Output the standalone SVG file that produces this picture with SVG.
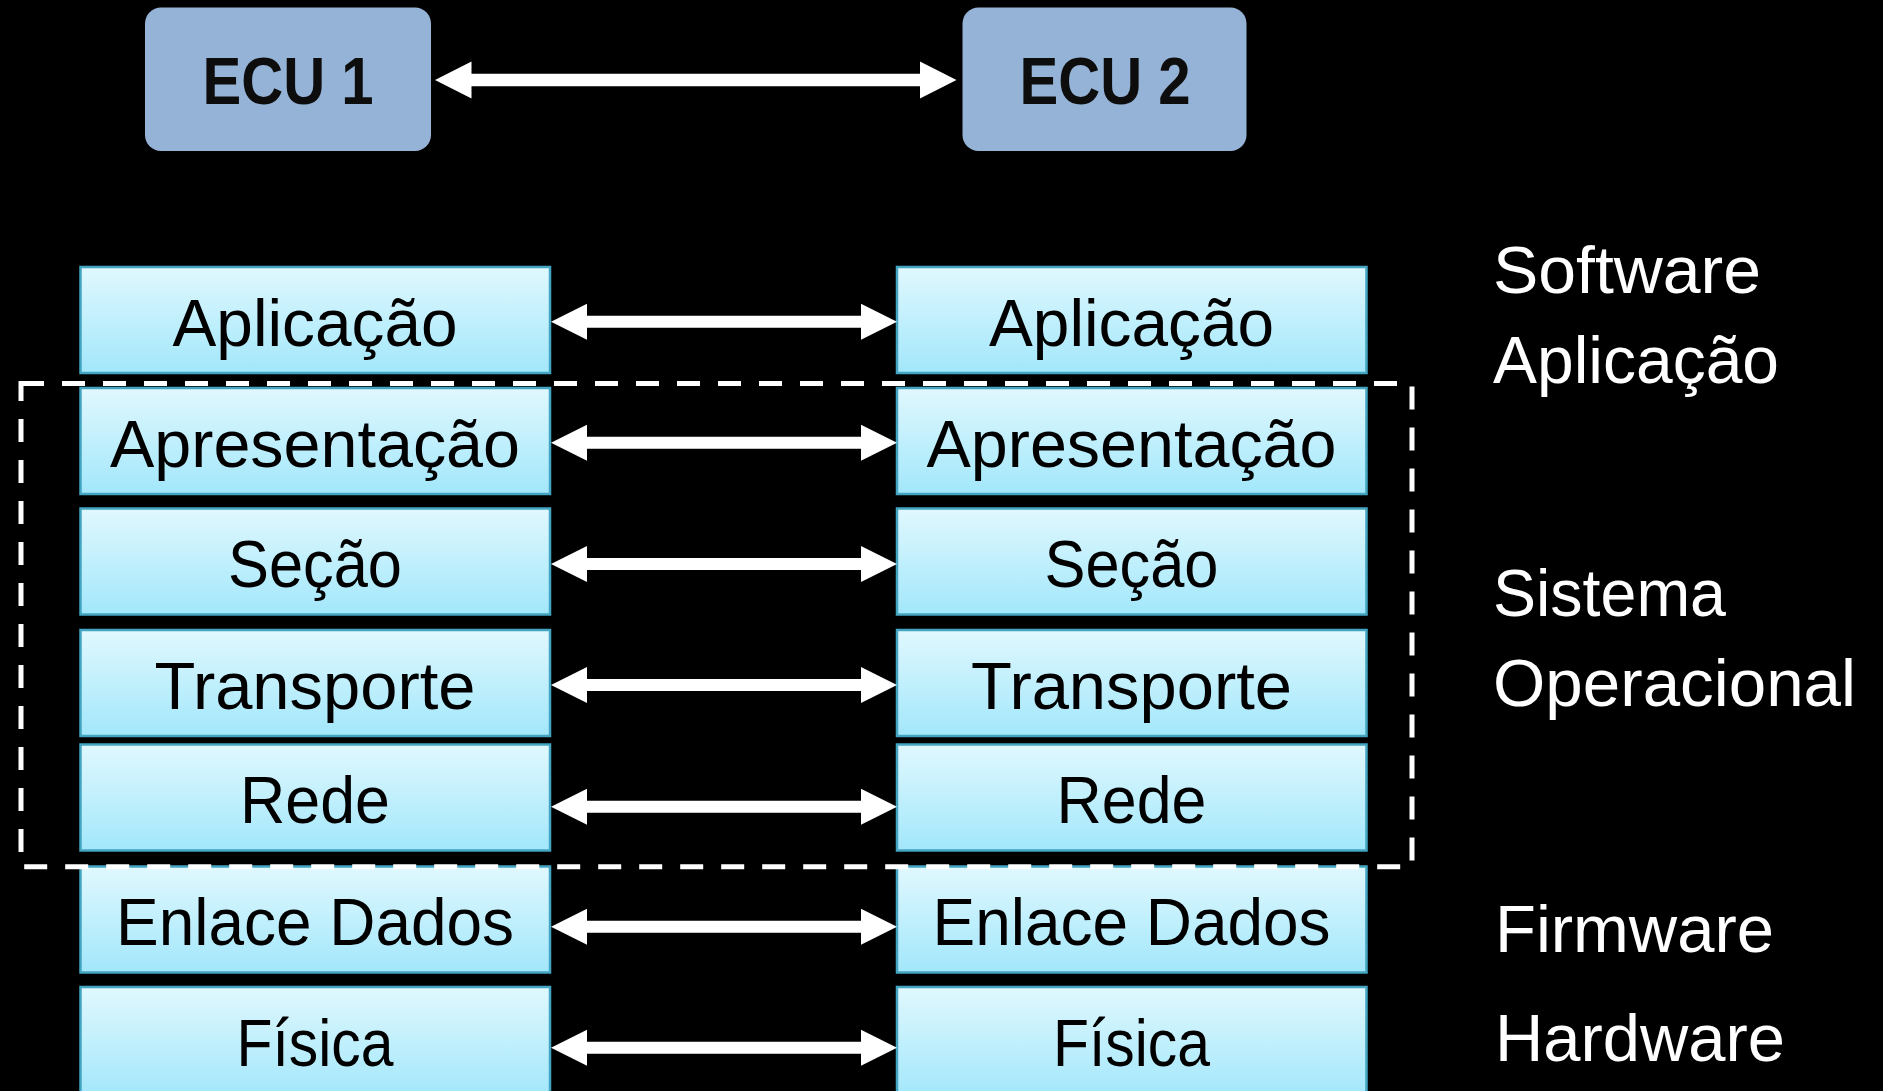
<svg xmlns="http://www.w3.org/2000/svg" width="1883" height="1091" viewBox="0 0 1883 1091">
  <defs>
    <linearGradient id="layerGrad" x1="0" y1="0" x2="0" y2="1">
      <stop offset="0" stop-color="#e0f8fe"/>
      <stop offset="1" stop-color="#a2e7fb"/>
    </linearGradient>
    <style>
      .layer rect { fill: url(#layerGrad); stroke: #43a5c1; stroke-width: 2.5; }
      .layer text { font-family: "Liberation Sans", Arial, sans-serif; font-size: 66px; fill: #000; text-anchor: middle; }
      .ecu rect { fill: #95b3d7; }
      .ecu text { font-family: "Liberation Sans", Arial, sans-serif; font-size: 66px; font-weight: bold; fill: #0d0d0d; text-anchor: middle; }
      .label { font-family: "Liberation Sans", Arial, sans-serif; font-size: 66px; fill: #ffffff; }
      .arrow { fill: #ffffff; }
      .dash { fill: none; stroke: #ffffff; stroke-width: 5; stroke-dasharray: 23 18; }
    </style>
  </defs>
  <rect x="0" y="0" width="1883" height="1091" fill="#000000"/>

  <!-- ECU nodes -->
  <g id="ecu1" class="ecu">
    <rect x="145" y="7.5" width="286" height="143.5" rx="16" ry="16"/>
    <text x="288" y="104" textLength="171" lengthAdjust="spacingAndGlyphs">ECU 1</text>
  </g>
  <g id="ecu2" class="ecu">
    <rect x="962.5" y="7.5" width="284" height="143.5" rx="16" ry="16"/>
    <text x="1105" y="104" textLength="171" lengthAdjust="spacingAndGlyphs">ECU 2</text>
  </g>

  <!-- Left stack (ECU 1) -->
  <g id="l-aplicacao" class="layer"><rect x="80.5" y="267" width="469.5" height="106"/><text x="315" y="346" textLength="285" lengthAdjust="spacingAndGlyphs">Aplicação</text></g>
  <g id="l-apresentacao" class="layer"><rect x="80.5" y="388" width="469.5" height="106"/><text x="315" y="467" textLength="410" lengthAdjust="spacingAndGlyphs">Apresentação</text></g>
  <g id="l-secao" class="layer"><rect x="80.5" y="508.5" width="469.5" height="106"/><text x="315" y="586.5" textLength="174" lengthAdjust="spacingAndGlyphs">Seção</text></g>
  <g id="l-transporte" class="layer"><rect x="80.5" y="630" width="469.5" height="106"/><text x="315" y="708.5" textLength="321" lengthAdjust="spacingAndGlyphs">Transporte</text></g>
  <g id="l-rede" class="layer"><rect x="80.5" y="744.5" width="469.5" height="106"/><text x="315" y="822.5" textLength="150" lengthAdjust="spacingAndGlyphs">Rede</text></g>
  <g id="l-enlace" class="layer"><rect x="80.5" y="866.5" width="469.5" height="106"/><text x="315" y="944.5" textLength="398" lengthAdjust="spacingAndGlyphs">Enlace Dados</text></g>
  <g id="l-fisica" class="layer"><rect x="80.5" y="987" width="469.5" height="110"/><text x="315" y="1065.5" textLength="157" lengthAdjust="spacingAndGlyphs">Física</text></g>

  <!-- Right stack (ECU 2) -->
  <g id="r-aplicacao" class="layer"><rect x="897" y="267" width="469.5" height="106"/><text x="1131.5" y="346" textLength="285" lengthAdjust="spacingAndGlyphs">Aplicação</text></g>
  <g id="r-apresentacao" class="layer"><rect x="897" y="388" width="469.5" height="106"/><text x="1131.5" y="467" textLength="410" lengthAdjust="spacingAndGlyphs">Apresentação</text></g>
  <g id="r-secao" class="layer"><rect x="897" y="508.5" width="469.5" height="106"/><text x="1131.5" y="586.5" textLength="174" lengthAdjust="spacingAndGlyphs">Seção</text></g>
  <g id="r-transporte" class="layer"><rect x="897" y="630" width="469.5" height="106"/><text x="1131.5" y="708.5" textLength="321" lengthAdjust="spacingAndGlyphs">Transporte</text></g>
  <g id="r-rede" class="layer"><rect x="897" y="744.5" width="469.5" height="106"/><text x="1131.5" y="822.5" textLength="150" lengthAdjust="spacingAndGlyphs">Rede</text></g>
  <g id="r-enlace" class="layer"><rect x="897" y="866.5" width="469.5" height="106"/><text x="1131.5" y="944.5" textLength="398" lengthAdjust="spacingAndGlyphs">Enlace Dados</text></g>
  <g id="r-fisica" class="layer"><rect x="897" y="987" width="469.5" height="110"/><text x="1131.5" y="1065.5" textLength="157" lengthAdjust="spacingAndGlyphs">Física</text></g>

  <!-- Dashed group boundary (Sistema Operacional) -->
  <g id="os-boundary">
    <path class="dash" d="M21,383.5 H1412 V866.7 H21 Z"/>
  </g>

  <!-- Connectors -->
  <g id="connectors">
    <path class="arrow" d="M435,80 L471.5,61.5 L471.5,73.8 L920,73.8 L920,61.5 L956.5,80 L920,98.5 L920,86.2 L471.5,86.2 L471.5,98.5 Z"/>
    <g id="layer-arrows">
      <path class="arrow" transform="translate(0,321.7)" d="M551,0 L587,-18 L587,-6 L861,-6 L861,-18 L897,0 L861,18 L861,6 L587,6 L587,18 Z"/>
      <path class="arrow" transform="translate(0,442.8)" d="M551,0 L587,-18 L587,-6 L861,-6 L861,-18 L897,0 L861,18 L861,6 L587,6 L587,18 Z"/>
      <path class="arrow" transform="translate(0,563.9)" d="M551,0 L587,-18 L587,-6 L861,-6 L861,-18 L897,0 L861,18 L861,6 L587,6 L587,18 Z"/>
      <path class="arrow" transform="translate(0,685)" d="M551,0 L587,-18 L587,-6 L861,-6 L861,-18 L897,0 L861,18 L861,6 L587,6 L587,18 Z"/>
      <path class="arrow" transform="translate(0,806.7)" d="M551,0 L587,-18 L587,-6 L861,-6 L861,-18 L897,0 L861,18 L861,6 L587,6 L587,18 Z"/>
      <path class="arrow" transform="translate(0,926.7)" d="M551,0 L587,-18 L587,-6 L861,-6 L861,-18 L897,0 L861,18 L861,6 L587,6 L587,18 Z"/>
      <path class="arrow" transform="translate(0,1047.7)" d="M551,0 L587,-18 L587,-6 L861,-6 L861,-18 L897,0 L861,18 L861,6 L587,6 L587,18 Z"/>
    </g>
  </g>

  <!-- Side labels -->
  <g id="labels">
    <text class="label" x="1493" y="292.5" textLength="268" lengthAdjust="spacingAndGlyphs">Software</text>
    <text class="label" x="1493" y="382.5" textLength="286" lengthAdjust="spacingAndGlyphs">Aplicação</text>
    <text class="label" x="1493" y="616" textLength="233" lengthAdjust="spacingAndGlyphs">Sistema</text>
    <text class="label" x="1493" y="706" textLength="363" lengthAdjust="spacingAndGlyphs">Operacional</text>
    <text class="label" x="1495" y="951.5" textLength="279" lengthAdjust="spacingAndGlyphs">Firmware</text>
    <text class="label" x="1495" y="1061" textLength="290" lengthAdjust="spacingAndGlyphs">Hardware</text>
  </g>
</svg>
